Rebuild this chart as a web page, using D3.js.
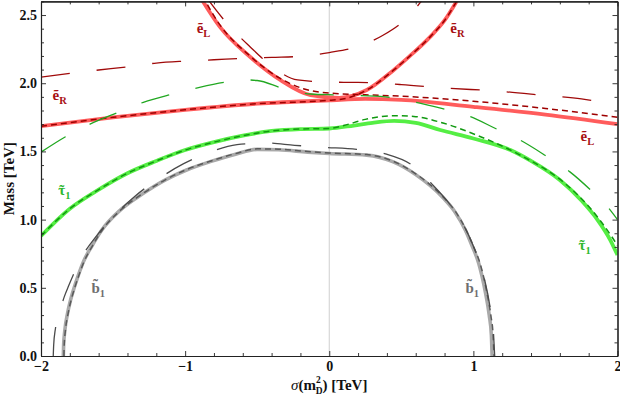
<!DOCTYPE html>
<html><head><meta charset="utf-8">
<script src="https://cdn.jsdelivr.net/npm/d3@7"></script>
<style>
body{margin:0;background:#fff;}
svg{display:block;}
text{font-family:"Liberation Serif","Times New Roman",serif;}
</style></head>
<body><svg id="c" width="620" height="396"></svg>
<script>
// ---------- data (x in TeV, mass in TeV) ----------
const xTicks = [-2, -1, 0, 1, 2];
const yTicks = [0, 0.5, 1.0, 1.5, 2.0, 2.5];

// selectron (red)
const eFlatSolid = [[-2,1.685],[-1.5,1.75],[-1,1.805],[-0.5,1.85],[0,1.875],[0.25,1.885],[0.5,1.878],[1,1.827],[1.5,1.77],[2,1.70]];
const eVSolid = [[-0.9,2.64],[-0.76,2.415],[-0.55,2.194],[-0.34,2.024],[-0.13,1.913],[0.07,1.893],[0.26,1.95],[0.44,2.09],[0.56,2.2],[0.7,2.34],[0.8,2.46],[0.9,2.63]];
const eDashA = [[-2,1.685],[-1.5,1.75],[-1,1.805],[-0.5,1.85],[0,1.875],[0.12,1.89],[0.26,1.95],[0.44,2.09],[0.56,2.2],[0.7,2.34],[0.8,2.46],[0.9,2.63]];
const eDashB = [[-0.88,2.64],[-0.76,2.43],[-0.55,2.2],[-0.34,2.035],[-0.18,1.96],[0,1.928],[0.25,1.915],[0.5,1.905],[1,1.868],[1.5,1.815],[2,1.75]];
const eLongUpper = [[-2,2.045],[-1.6,2.097],[-1.4,2.12],[-1.2,2.148],[-1,2.162],[-0.8,2.172],[-0.6,2.183],[-0.4,2.19],[-0.2,2.197],[0,2.225],[0.2,2.27],[0.37,2.35],[0.54,2.48],[0.66,2.63]];
const eLongLower = [[-0.86,2.64],[-0.7,2.427],[-0.55,2.268],[-0.41,2.134],[-0.22,2.024],[0,2.008],[0.2,2.006],[0.5,1.99],[0.8,1.965],[1.2,1.94],[1.5,1.91],[1.75,1.885],[2,1.84]];

// stau (green)
const tauSolid = [[-2,0.88],[-1.8,1.08],[-1.6,1.22],[-1.4,1.34],[-1.2,1.43],[-1,1.51],[-0.8,1.568],[-0.6,1.615],[-0.4,1.65],[-0.2,1.664],[0,1.668],[0.17,1.69],[0.3,1.71],[0.45,1.724],[0.6,1.71],[0.77,1.657],[1.0,1.595],[1.257,1.51],[1.4,1.43],[1.6,1.29],[1.75,1.14],[1.86,1.0],[1.95,0.85],[2,0.74]];
const tauDash = [[-2,0.88],[-1.8,1.08],[-1.6,1.22],[-1.4,1.34],[-1.2,1.43],[-1,1.51],[-0.8,1.568],[-0.6,1.615],[-0.4,1.65],[-0.2,1.664],[0,1.668],[0.1,1.69],[0.25,1.735],[0.45,1.762],[0.6,1.755],[0.75,1.72],[1.05,1.608],[1.33,1.47],[1.63,1.27],[1.81,1.085],[1.96,0.875],[2,0.81]];
const tauLong = [[-2,1.495],[-1.83,1.608],[-1.66,1.70],[-1.47,1.784],[-1.29,1.86],[-1.09,1.92],[-0.9,1.97],[-0.71,2.01],[-0.6,2.025],[-0.5,2.02],[-0.32,1.962],[-0.13,1.921],[0.06,1.914],[0.39,1.90],[0.58,1.865],[0.78,1.815],[0.98,1.755],[1.15,1.67],[1.33,1.58],[1.5,1.47],[1.67,1.35],[1.81,1.22],[1.95,1.07],[2,1.0]];

// sbottom (grey)
const sbSolid = [[-1.845,0],[-1.843,0.08],[-1.835,0.183],[-1.815,0.317],[-1.795,0.41],[-1.77,0.5],[-1.745,0.58],[-1.706,0.69],[-1.645,0.81],[-1.578,0.924],[-1.45,1.07],[-1.29,1.193],[-1.14,1.29],[-0.99,1.364],[-0.826,1.425],[-0.65,1.48],[-0.5,1.515],[-0.35,1.512],[-0.15,1.495],[0,1.485],[0.26,1.473],[0.44,1.425],[0.6,1.33],[0.79,1.16],[0.87,1.06],[0.944,0.924],[0.99,0.81],[1.037,0.68],[1.06,0.585],[1.083,0.47],[1.11,0.30],[1.125,0.152],[1.13,0]];
const sbDash = [[-1.841,0],[-1.839,0.08],[-1.831,0.183],[-1.811,0.317],[-1.791,0.41],[-1.766,0.5],[-1.741,0.58],[-1.702,0.69],[-1.642,0.81],[-1.575,0.924],[-1.447,1.07],[-1.288,1.195],[-1.138,1.292],[-0.99,1.367],[-0.826,1.428],[-0.65,1.484],[-0.5,1.519],[-0.35,1.516],[-0.15,1.499],[0,1.489],[0.26,1.477],[0.44,1.43],[0.6,1.336],[0.79,1.166],[0.875,1.06],[0.95,0.924],[0.998,0.81],[1.046,0.68],[1.07,0.585],[1.093,0.47],[1.121,0.30],[1.137,0.152],[1.143,0]];
const sbLong = [[-1.915,0],[-1.912,0.08],[-1.9,0.2],[-1.868,0.33],[-1.84,0.43],[-1.806,0.52],[-1.73,0.70],[-1.61,0.887],[-1.5,1.02],[-1.35,1.17],[-1.197,1.29],[-1.01,1.41],[-0.84,1.49],[-0.64,1.55],[-0.44,1.562],[-0.24,1.545],[-0.04,1.53],[0.19,1.515],[0.39,1.482],[0.574,1.40],[0.713,1.26],[0.852,1.09],[0.944,0.935],[0.99,0.83],[1.05,0.66],[1.08,0.55],[1.12,0.33],[1.14,0.16],[1.148,0]];

// labels: base letter, whether a separate tilde is drawn, subscript
const labels = [
  {base:"ẽ", tilde:false, sub:"L", x:-0.92, y:2.37, color:"#a81014"},
  {base:"ẽ", tilde:false, sub:"R", x:0.84,  y:2.37, color:"#a81014"},
  {base:"ẽ", tilde:false, sub:"R", x:-1.92, y:1.877, color:"#a81014"},
  {base:"ẽ", tilde:false, sub:"L", x:1.743, y:1.576, color:"#a81014"},
  {base:"τ", tilde:true, lift:0, sub:"1", x:-1.88, y:1.18, color:"#2eb82e"},
  {base:"τ", tilde:true, lift:0, sub:"1", x:1.73, y:0.777, color:"#2eb82e"},
  {base:"b", tilde:true, lift:4, sub:"1", x:-1.65, y:0.46, color:"#6e6e6e"},
  {base:"b", tilde:true, lift:4, sub:"1", x:0.945, y:0.46, color:"#6e6e6e"}
];

// ---------- drawing ----------
const svg = d3.select("#c");
const x = d3.scaleLinear().domain([-2, 2]).range([41, 617.5]);
const y = d3.scaleLinear().domain([0, 2.6]).range([356, 1.4]);

svg.append("defs").append("clipPath").attr("id","clip")
  .append("rect").attr("x",41).attr("y",1.4).attr("width",617.5-41).attr("height",356-1.4);

// vertical line at x = 0
svg.append("line").attr("x1",x(0)).attr("x2",x(0)).attr("y1",y(2.6)).attr("y2",y(0))
  .attr("stroke","#cfcfcf").attr("stroke-width",1);

const line = d3.line().x(d=>x(d[0])).y(d=>y(d[1])).curve(d3.curveMonotoneX);
const g = svg.append("g").attr("clip-path","url(#clip)");

function draw(data, color, width, dash){
  g.append("path").datum(data).attr("d", line)
   .attr("fill","none").attr("stroke",color).attr("stroke-width",width)
   .attr("stroke-linecap","butt").attr("stroke-linejoin","round")
   .attr("stroke-dasharray", dash || null);
}
// thick solid curves
draw(sbSolid, "#a9a9a9", 3.6);
draw(tauSolid, "#55ee44", 3.8);
draw(eFlatSolid, "#ff5c5c", 3.8);
draw(eVSolid, "#ff5c5c", 3.8);
// short dashed
const SD = "6,4";
draw(sbDash, "#5a5a5a", 1.5, SD);
draw(tauDash, "#119911", 1.5, SD);
draw(eDashA, "#9e0000", 1.5, SD);
draw(eDashB, "#9e0000", 1.5, SD);
// long dashed
const LD = "29,27";
draw(sbLong, "#4a4a4a", 1.3, LD);
draw(tauLong, "#22a822", 1.3, LD);
draw(eLongUpper, "#a00a0a", 1.3, LD);
draw(eLongLower, "#a00a0a", 1.3, LD);

// ---------- axes ----------
const fmtX = d => d < 0 ? "\u2212" + Math.abs(d) : String(d);
const minorX = d3.range(-2, 2.0001, 0.2).map(v=>+v.toFixed(2)).filter(v=>!xTicks.includes(v));
const minorY = d3.range(0, 2.6001, 0.1).map(v=>+v.toFixed(2)).filter(v=>!yTicks.includes(v));

function styleAxis(sel){
  sel.select(".domain").attr("stroke","#222").attr("stroke-width",1.1);
  sel.selectAll(".tick line").attr("stroke","#222").attr("stroke-width",0.9);
  sel.selectAll(".tick text").attr("fill","#111").attr("font-weight","bold")
     .attr("font-size",14).attr("font-family","'Liberation Serif',serif");
}
// bottom
svg.append("g").attr("transform",`translate(0,${y(0)})`)
  .call(d3.axisBottom(x).tickValues(xTicks).tickSize(-5).tickSizeOuter(0).tickPadding(5).tickFormat(fmtX))
  .call(styleAxis);
svg.append("g").attr("transform",`translate(0,${y(0)})`)
  .call(d3.axisBottom(x).tickValues(minorX).tickSize(-3).tickSizeOuter(0).tickFormat(""))
  .call(styleAxis);
// top
svg.append("g").attr("transform",`translate(0,${y(2.6)})`)
  .call(d3.axisTop(x).tickValues(xTicks).tickSize(-5).tickSizeOuter(0).tickFormat(""))
  .call(styleAxis);
svg.append("g").attr("transform",`translate(0,${y(2.6)})`)
  .call(d3.axisTop(x).tickValues(minorX).tickSize(-3).tickSizeOuter(0).tickFormat(""))
  .call(styleAxis);
// left
svg.append("g").attr("transform",`translate(${x(-2)},0)`)
  .call(d3.axisLeft(y).tickValues(yTicks).tickSize(-5).tickSizeOuter(0).tickPadding(4).tickFormat(d3.format(".1f")))
  .call(styleAxis);
svg.append("g").attr("transform",`translate(${x(-2)},0)`)
  .call(d3.axisLeft(y).tickValues(minorY).tickSize(-3).tickSizeOuter(0).tickFormat(""))
  .call(styleAxis);
// right
svg.append("g").attr("transform",`translate(${x(2)},0)`)
  .call(d3.axisRight(y).tickValues(yTicks).tickSize(-5).tickSizeOuter(0).tickFormat(""))
  .call(styleAxis);
svg.append("g").attr("transform",`translate(${x(2)},0)`)
  .call(d3.axisRight(y).tickValues(minorY).tickSize(-3).tickSizeOuter(0).tickFormat(""))
  .call(styleAxis);

// axis titles
svg.append("text").attr("transform",`translate(14,${(y(0)+y(2.6))/2}) rotate(-90)`)
  .attr("text-anchor","middle").attr("font-weight","bold").attr("font-size",15).attr("fill","#111")
  .text("Mass [TeV]");

// x title: σ(m_D^2) [TeV] with stacked super/subscript
const xt = svg.append("text").attr("x",x(0)).attr("y",390).attr("text-anchor","middle")
  .attr("font-size",15).attr("fill","#111");
xt.append("tspan").attr("font-style","italic").text("σ");
xt.append("tspan").attr("font-weight","bold").text("(m");
xt.append("tspan").attr("font-weight","bold").attr("font-size",9.5).attr("dy",-7).text("2");
xt.append("tspan").attr("font-weight","bold").attr("font-size",9.5).attr("dx",-5).attr("dy",10.5).text("D");
xt.append("tspan").attr("font-weight","bold").attr("dy",-3.5).text(") [TeV]");

// curve labels
labels.forEach(l=>{
  const gx = x(l.x), gy = y(l.y);
  const t = svg.append("text").attr("x",gx).attr("y",gy)
    .attr("fill",l.color).attr("font-weight","bold").attr("font-size",15);
  const b = t.append("tspan").text(l.base);
  t.append("tspan").attr("font-size",10.5).attr("dy",4).text(l.sub);
  if (l.tilde){
    const w = b.node().getComputedTextLength();
    svg.append("text").attr("x",gx + w/2).attr("y",gy - l.lift).attr("text-anchor","middle")
      .attr("fill",l.color).attr("font-weight","bold").attr("font-size",15).text("\u02DC");
  }
});
</script></body></html>
